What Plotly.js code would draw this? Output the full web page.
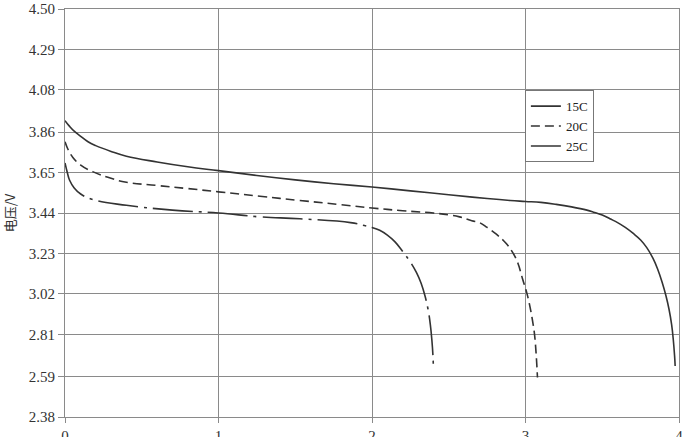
<!DOCTYPE html>
<html>
<head>
<meta charset="utf-8">
<script src="https://cdn.plot.ly/plotly-3.0.1.min.js"></script>
<style>html,body{margin:0;padding:0;background:#fff;}#chart{width:694px;height:437px;}</style>
</head>
<body>
<div id="chart"></div>
<script>
// Data
const x15 = [0, 0.03, 0.06, 0.1, 0.15, 0.2, 0.3, 0.4, 0.6, 0.8, 1.0, 1.25, 1.5, 1.75, 2.0, 2.25, 2.5, 2.75, 2.9, 3.0, 3.1, 3.2, 3.3, 3.4, 3.45, 3.5, 3.55, 3.6, 3.65, 3.7, 3.75, 3.79, 3.83, 3.86, 3.89, 3.915, 3.935, 3.952, 3.963, 3.971, 3.975];
const v15 = [3.92, 3.89, 3.865, 3.84, 3.81, 3.79, 3.76, 3.735, 3.705, 3.68, 3.66, 3.635, 3.612, 3.592, 3.575, 3.555, 3.535, 3.515, 3.505, 3.50, 3.495, 3.485, 3.472, 3.455, 3.443, 3.43, 3.41, 3.39, 3.365, 3.335, 3.30, 3.26, 3.205, 3.15, 3.08, 3.01, 2.94, 2.86, 2.78, 2.70, 2.645];

const x20 = [0, 0.02, 0.05, 0.1, 0.18, 0.3, 0.4, 0.6, 0.8, 1.0, 1.27, 1.53, 1.8, 2.0, 2.2, 2.4, 2.5, 2.57, 2.65, 2.7, 2.75, 2.81, 2.87, 2.92, 2.95, 2.98, 3.01, 3.03, 3.05, 3.06, 3.07, 3.078];
const v20 = [3.81, 3.77, 3.73, 3.69, 3.655, 3.62, 3.60, 3.583, 3.567, 3.55, 3.527, 3.505, 3.483, 3.466, 3.452, 3.44, 3.43, 3.42, 3.40, 3.39, 3.365, 3.33, 3.285, 3.23, 3.18, 3.10, 3.02, 2.95, 2.86, 2.80, 2.70, 2.585];

const x25 = [0, 0.015, 0.03, 0.06, 0.1, 0.18, 0.4, 0.7, 1.0, 1.27, 1.53, 1.86, 1.95, 2.0, 2.05, 2.1, 2.15, 2.2, 2.25, 2.29, 2.32, 2.345, 2.365, 2.38, 2.39, 2.397, 2.40];
const v25 = [3.70, 3.65, 3.61, 3.57, 3.54, 3.51, 3.48, 3.455, 3.44, 3.42, 3.41, 3.39, 3.375, 3.365, 3.35, 3.325, 3.29, 3.24, 3.185, 3.13, 3.075, 3.01, 2.94, 2.86, 2.78, 2.70, 2.635];

const seriesNames = ["15C", "20C", "25C"];
const yTickVals = [2.38, 2.59, 2.81, 3.02, 3.23, 3.44, 3.65, 3.86, 4.08, 4.29, 4.50];
const yTickText = ["2.38", "2.59", "2.81", "3.02", "3.23", "3.44", "3.65", "3.86", "4.08", "4.29", "4.50"];
const xTickVals = [0, 1, 2, 3, 4];
const xTickText = ["0", "1", "2", "3", "4"];

const lineColor = "#333333";
const traces = [
  {x: x15, y: v15, name: seriesNames[0], mode: "lines", line: {color: lineColor, width: 1.6, shape: "spline", smoothing: 1.2}},
  {x: x20, y: v20, name: seriesNames[1], mode: "lines", line: {color: lineColor, width: 1.6, dash: "9px,5px", shape: "spline", smoothing: 1.2}},
  {x: x25, y: v25, name: seriesNames[2], mode: "lines", line: {color: lineColor, width: 1.6, dash: "40px,6px,3px,6px", shape: "spline", smoothing: 1.2}}
];

const serif = "Liberation Serif, Times New Roman, serif";
const layout = {
  width: 694, height: 437,
  margin: {l: 65, r: 15, t: 9, b: 20, pad: 0},
  paper_bgcolor: "#ffffff", plot_bgcolor: "#ffffff",
  showlegend: true,
  legend: {
    x: 0.749, y: 0.801, xanchor: "left", yanchor: "top",
    bgcolor: "#ffffff", bordercolor: "#777777", borderwidth: 1,
    font: {family: serif, size: 13, color: "#222222"},
    itemwidth: 30, tracegroupgap: 0
  },
  xaxis: {
    range: [0, 4], tickvals: xTickVals, ticktext: xTickText,
    showgrid: true, gridcolor: "#8a8a8a", gridwidth: 1,
    showline: true, linecolor: "#8a8a8a", linewidth: 1, mirror: true,
    ticks: "outside", ticklen: 5, tickcolor: "#8a8a8a",
    zeroline: false,
    tickfont: {family: serif, size: 15, color: "#333333"}
  },
  yaxis: {
    range: [2.38, 4.50], tickvals: yTickVals, ticktext: yTickText,
    showgrid: true, gridcolor: "#8a8a8a", gridwidth: 1,
    showline: true, linecolor: "#8a8a8a", linewidth: 1, mirror: true,
    ticks: "outside", ticklen: 6, tickcolor: "#8a8a8a",
    zeroline: false,
    tickfont: {family: serif, size: 15, color: "#333333"},
    title: {text: "电压/V", font: {family: "Noto Sans CJK SC, sans-serif", size: 13, color: "#333333"}, standoff: 10}
  }
};

Plotly.newPlot("chart", traces, layout, {displayModeBar: false, staticPlot: true});
</script>
</body>
</html>
